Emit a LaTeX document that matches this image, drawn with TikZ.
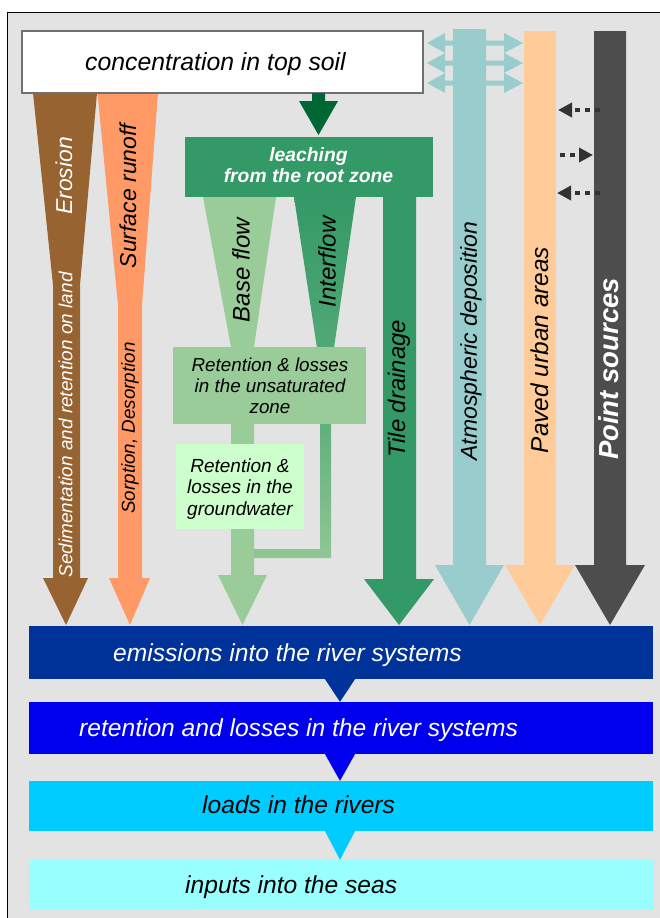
\documentclass[tikz,border=0pt]{standalone}
\usepackage{fontspec}
\setmainfont{Liberation Sans}
\usetikzlibrary{arrows.meta,calc}
\definecolor{bg}{HTML}{E3E3E3}
\definecolor{boxgray}{HTML}{707070}
\definecolor{erosion}{HTML}{966331}
\definecolor{runoff}{HTML}{FF9966}
\definecolor{leachdark}{HTML}{006633}
\definecolor{leach}{HTML}{339966}
\definecolor{baseflow}{HTML}{99CC99}
\definecolor{ground}{HTML}{CCFFCC}
\definecolor{atmo}{HTML}{99CCCC}
\definecolor{paved}{HTML}{FFCC99}
\definecolor{pointsrc}{HTML}{4D4D4D}
\definecolor{dotcol}{HTML}{333333}
\definecolor{emisblue}{HTML}{003399}
\definecolor{retblue}{HTML}{0000EE}
\definecolor{loadblue}{HTML}{00CCFF}
\definecolor{seablue}{HTML}{99FFFF}
\newcommand\sz[2]{\fontsize{#1pt}{#2pt}\selectfont}
\begin{document}
\begin{tikzpicture}[x=1pt,y=-1pt,
  lab/.style={inner sep=0pt, font=\itshape},
  vlab/.style={inner sep=0pt, rotate=90, font=\itshape},
  band/.style={inner sep=0pt, minimum width=624.4pt, draw=none},
  stage/.style={inner sep=0pt, anchor=base west, font=\sz{24.6}{28}\itshape},
  dotarrow/.style={draw=dotcol, line width=3.5pt, dash pattern=on 5pt off 5pt,
    -{Triangle[length=14pt,width=14pt]}},
  tri/.style={draw=none}
]
\useasboundingbox (0,0) rectangle (660,918);
\fill[white] (0,0) rectangle (660,918);
\filldraw[fill=bg, draw=black, line width=1pt] (7.5,12.5) rectangle (675,935);

% diffuse pathways on the left
\fill[erosion] (33,93) -- (97,93) -- (80,285) -- (80,578) -- (88,578) -- (66,625)
  -- (43,578) -- (53,578) -- (53,285) -- cycle;
\fill[runoff] (97.5,93) -- (158,93) -- (142,305) -- (142,578) -- (150,578) -- (130,625)
  -- (109,578) -- (118,578) -- (118,305) -- cycle;

% top soil box
\node[draw=boxgray, line width=2.5pt, fill=white, minimum width=401pt,
  minimum height=62pt, inner sep=0pt] (soil) at (222.5,62) {};
\node[lab, anchor=base, font=\sz{24.8}{28}\itshape] (soilT) at (215.5,70) {concentration in top soil};

% leaching arrow
\fill[leachdark] (312,93) -- (325,93) -- (325,101) -- (338,101) -- (318.5,135)
  -- (299,101) -- (312,101) -- cycle;

% soil water pathways
\fill[baseflow] (203,197) -- (276,197) -- (254,347) -- (254,575) -- (267,575)
  -- (242.5,625) -- (218,575) -- (231,575) -- (231,347) -- cycle;
\shade[top color=leach, bottom color=leach!70!baseflow]
  (294,197) -- (356,197) -- (334,348) -- (317,348) -- cycle;
\shade[top color=leach!55!baseflow, bottom color=baseflow!90!leach]
  (320,424) -- (331,424) -- (331,558) -- (254,558) -- (254,549) -- (320,549) -- cycle;
\fill[leach] (383,197) -- (416,197) -- (416,579) -- (434,579) -- (399,625)
  -- (364,579) -- (383,579) -- cycle;

\node[fill=leach, minimum width=248pt, minimum height=60pt, inner sep=0pt] (leachbox) at (309,167) {};
\node[lab, align=center, text=white, font=\sz{19.3}{21}\bfseries\itshape] (leachT) at (308.5,165)
  {leaching\\from the root zone};

\node[fill=baseflow, minimum width=193pt, minimum height=77pt, inner sep=0pt] (unsat) at (269.5,385.5) {};
\node[lab, align=center, font=\sz{18.8}{21}\itshape] (unsatT) at (270,386)
  {Retention \& losses\\in the unsaturated\\zone};
\node[fill=ground, minimum width=128pt, minimum height=85pt, inner sep=0pt] (gw) at (240,486.5) {};
\node[lab, align=center, font=\sz{19}{21.5}\itshape] (gwT) at (240,489)
  {Retention \&\\losses in the\\groundwater};

% atmospheric exchange with the top soil
\foreach \yy in {43,63,83}{
  \fill[atmo] (427,\yy) -- (445,\yy-10) -- (445,\yy-2.5) -- (504,\yy-2.5) -- (504,\yy-10)
    -- (523,\yy) -- (504,\yy+10) -- (504,\yy+2.5) -- (445,\yy+2.5) -- (445,\yy+10) -- cycle;
}
\fill[atmo] (453,29) -- (486,29) -- (486,565) -- (504,565) -- (469.5,625) -- (435,565)
  -- (453,565) -- cycle;
\fill[paved] (524,31) -- (556,31) -- (556,565) -- (575,565) -- (540,625) -- (505,565)
  -- (524,565) -- cycle;
\fill[pointsrc] (594,31) -- (626,31) -- (626,565) -- (645,565) -- (610,625) -- (575,565)
  -- (594,565) -- cycle;

% exchange between urban areas and point sources
\coordinate (ps1) at (600,110);  \coordinate (pu1) at (558,110);
\coordinate (pu2) at (560,155);  \coordinate (ps2) at (593,155);
\coordinate (ps3) at (600,193);  \coordinate (pu3) at (557,193);
\draw[dotarrow] (ps1) -- (pu1);
\draw[dotarrow] (pu2) -- (ps2);
\draw[dotarrow] (ps3) -- (pu3);

% river system stages
\node[band, fill=emisblue, minimum height=53pt] (emis) at (340.8,652.5) {};
\node[band, fill=retblue, minimum height=52pt] (ret) at (340.8,728) {};
\node[band, fill=loadblue, minimum height=50pt] (loads) at (340.8,806) {};
\node[band, fill=seablue, minimum height=49pt] (seas) at (340.8,884.5) {};
\fill[emisblue] ($(emis.south)+(-15.8,0)$) -- ($(emis.south)+(14.2,0)$) -- ($(ret.north)+(-0.8,0)$) -- cycle;
\fill[retblue] ($(ret.south)+(-15.8,0)$) -- ($(ret.south)+(14.2,0)$) -- ($(loads.north)+(-0.8,0)$) -- cycle;
\fill[loadblue] ($(loads.south)+(-15.8,0)$) -- ($(loads.south)+(14.2,0)$) -- ($(seas.north)+(-0.8,0)$) -- cycle;
\node[stage, text=white] (emisT) at (113,661) {emissions into the river systems};
\node[stage, text=white] (retT) at (79,736) {retention and losses in the river systems};
\node[stage] (loadsT) at (202,813.5) {loads in the rivers};
\node[stage] (seasT) at (185,893) {inputs into the seas};

% pathway labels
\node[vlab, text=white, font=\sz{23}{26}\itshape] (erosT) at (64,176) {Erosion};
\node[vlab, font=\sz{23}{26}\itshape] (runT) at (128,196) {Surface runoff};
\node[vlab, text=white, font=\sz{19}{22}\itshape] (sedT) at (65.5,425) {Sedimentation and retention on land};
\node[vlab, font=\sz{18.8}{22}\itshape] (sorpT) at (130,428) {Sorption, Desorption};
\node[vlab, font=\sz{24}{27}\itshape] (baseT) at (241,270) {Base flow};
\node[vlab, font=\sz{24}{27}\itshape] (interT) at (327,262) {Interflow};
\node[vlab, font=\sz{23.9}{27}\itshape] (tileT) at (399,389) {Tile drainage};
\node[vlab, font=\sz{23}{26}\itshape] (atmoT) at (471,341) {Atmospheric deposition};
\node[vlab, font=\sz{24.4}{27}\itshape] (pavedT) at (540,350) {Paved urban areas};
\node[vlab, text=white, font=\sz{27.5}{30}\bfseries\itshape] (pointT) at (609,369) {Point sources};
\end{tikzpicture}
\end{document}
